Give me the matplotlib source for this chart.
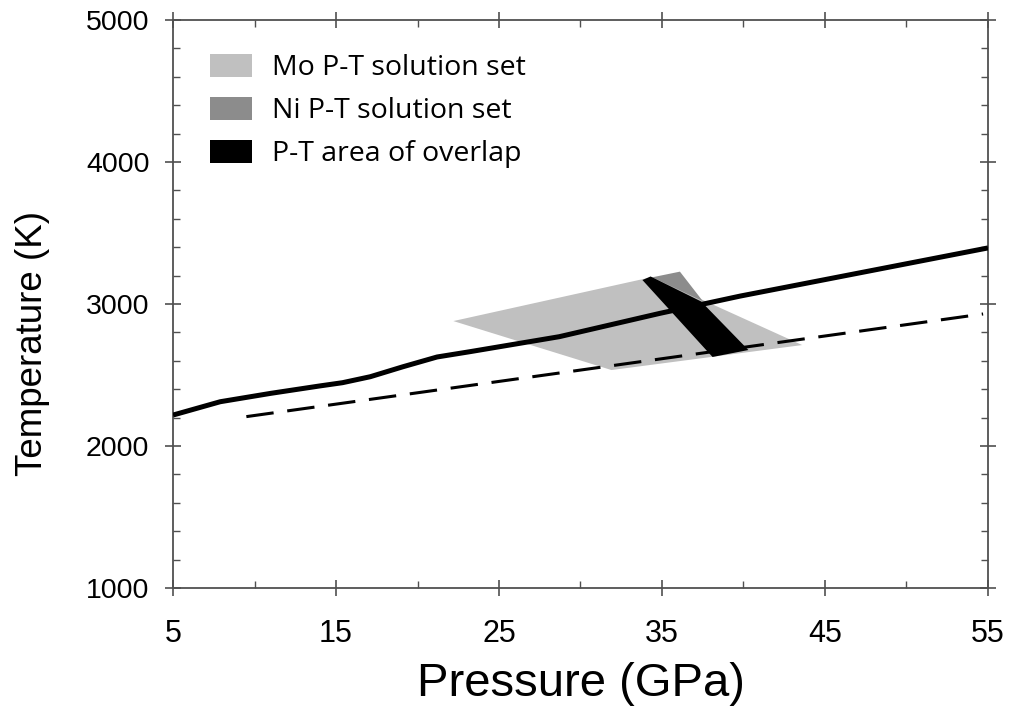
import matplotlib
matplotlib.use("Agg")
import matplotlib.pyplot as plt
from matplotlib.patches import Polygon, Patch
from matplotlib.ticker import MultipleLocator

# solid P-T curve (GPa, K)
solid_p = [5.0, 7.9, 11.0, 14.0, 15.4, 17.1, 19.1, 21.2, 23.2, 28.7, 34.9, 39.8, 55.0]
solid_t = [2218, 2312, 2371, 2423, 2446, 2488, 2558, 2627, 2664, 2770, 2935, 3056, 3395]

# dashed line
dash_p = [9.5, 54.7]
dash_t = [2207, 2930]

# solution sets
mo_p = [22.2, 34.4, 43.6, 31.9]
mo_t = [2880, 3190, 2711, 2535]
ni_p = [34.4, 36.1, 37.5]
ni_t = [3188, 3228, 3021]
ov_p = [33.8, 34.3, 37.4, 40.3, 38.1]
ov_t = [3169, 3194, 3018, 2676, 2627]

labels = ["Mo P-T solution set", "Ni P-T solution set", "P-T area of overlap"]
colors = ["#c0c0c0", "#8c8c8c", "#000000"]

fig = plt.figure(figsize=(10.1, 7.15), dpi=100)
ax = fig.add_axes([0.1713, 0.1776, 0.8069, 0.7944])

ax.add_patch(Polygon(list(zip(mo_p, mo_t)), closed=True, fc=colors[0], ec="none", zorder=1))
ax.add_patch(Polygon(list(zip(ni_p, ni_t)), closed=True, fc=colors[1], ec="none", zorder=2))
ax.plot(dash_p, dash_t, color="black", lw=2.2, dashes=(9, 4.5), zorder=3)
ax.plot(solid_p, solid_t, color="black", lw=3.6, solid_capstyle="butt", zorder=4)
ax.add_patch(Polygon(list(zip(ov_p, ov_t)), closed=True, fc=colors[2], ec="none", zorder=5))

ax.set_xlim(5, 55)
ax.set_ylim(1000, 5000)
ax.xaxis.set_major_locator(MultipleLocator(10, offset=5))
ax.xaxis.set_minor_locator(MultipleLocator(10))
ax.yaxis.set_major_locator(MultipleLocator(1000))
ax.yaxis.set_minor_locator(MultipleLocator(200))

spine_col = "#505050"
for s in ax.spines.values():
    s.set_color(spine_col)
    s.set_linewidth(1.3)

ax.tick_params(which="major", direction="inout", length=12, width=1.2, color=spine_col)
ax.tick_params(which="minor", direction="in", length=5, width=1.0, color=spine_col)
ax.tick_params(which="both", top=True, right=True)
ax.tick_params(axis="x", which="major", pad=16, labelsize=22)
ax.tick_params(axis="y", which="major", pad=11, labelsize=20.5)

font = "Liberation Sans"
for lab in ax.get_xticklabels() + ax.get_yticklabels():
    lab.set_family(font)

ax.set_xlabel("Pressure (GPa)", fontsize=34, family=font, labelpad=10)
ax.set_ylabel("Temperature (K)", fontsize=26.5, family=font)
ax.yaxis.set_label_coords(-0.151, 0.431)

handles = [Patch(fc=c, ec="none") for c in colors]
ax.legend(handles, labels, loc="upper left", bbox_to_anchor=(0.045, 0.94),
          frameon=False, borderpad=0, borderaxespad=0,
          handlelength=1.5, handleheight=0.85, handletextpad=0.7,
          labelspacing=0.52, prop={"family": "Open Sans", "size": 20.5})

fig.savefig("out.png", dpi=100)
